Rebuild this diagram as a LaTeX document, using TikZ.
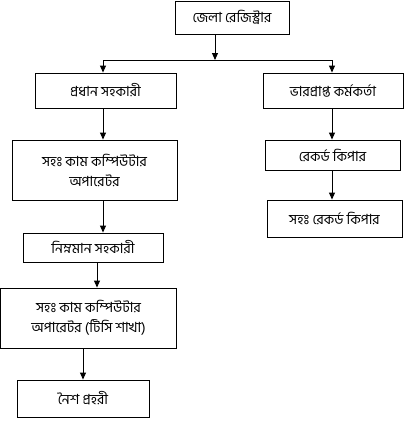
\documentclass[tikz,border=0pt]{standalone}
\usepackage{fontspec}
\newfontfamily\bnfont[Script=Bengali]{Hind Siliguri}
\usetikzlibrary{arrows.meta}
\begin{document}
\begin{tikzpicture}[x=1pt,y=-1pt,line width=0.9pt]
 \tikzset{directed/.style={-{Triangle[length=7pt,width=6pt]}}}
 \tikzset{post/.style={draw, rectangle, align=center, inner sep=2pt,
   font=\bnfont\fontsize{14}{20}\selectfont}}
  \useasboundingbox (0,0) rectangle (412,424);
  \node[post, minimum width=114, minimum height=33] (R) at (232,17.5) {জেলা রেজিস্ট্রার};
  \node[post, minimum width=141, minimum height=35] (P) at (105.5,90.5) {প্রধান সহকারী};
  \node[post, minimum width=140, minimum height=35] (B) at (333,90.5) {ভারপ্রাপ্ত কর্মকর্তা};
  \node[post, minimum width=165, minimum height=60] (S) at (94.5,170) {সহঃ কাম কম্পিউটার\\অপারেটর};
  \node[post, minimum width=135, minimum height=30] (K) at (332.5,155) {রেকর্ড কিপার};
  \node[post, minimum width=135, minimum height=37] (SK) at (334.5,218.5) {সহঃ রেকর্ড কিপার};
  \node[post, minimum width=140, minimum height=29] (N) at (93,247.5) {নিম্নমান সহকারী};
  \node[post, minimum width=176, minimum height=60] (T) at (88.5,318) {সহঃ কাম কম্পিউটার\\অপারেটর (টিসি শাখা)};
  \node[post, minimum width=132, minimum height=37] (G) at (83,398.5) {নৈশ প্রহরী};
  \coordinate (split) at (215,60);
  \coordinate (left) at (103,60);
  \coordinate (right) at (332,60);
  \coordinate (mid) at (97,0);
  \coordinate (low) at (83,0);
  \draw[directed] (R.south -| split) -- (split);
  \draw (left) -- (right);
  \draw[directed] (left) -- (P.north -| left);
  \draw[directed] (right) -- (B.north -| right);
  \draw[directed] (P.south -| left) -- (S.north -| left);
  \draw[directed] (S.south -| left) -- (N.north -| left);
  \draw[directed] (N.south -| mid) -- (T.north -| mid);
  \draw[directed] (T.south -| low) -- (G.north -| low);
  \draw[directed] (B.south -| right) -- (K.north -| right);
  \draw[directed] (K.south -| right) -- (SK.north -| right);
\end{tikzpicture}
\end{document}
